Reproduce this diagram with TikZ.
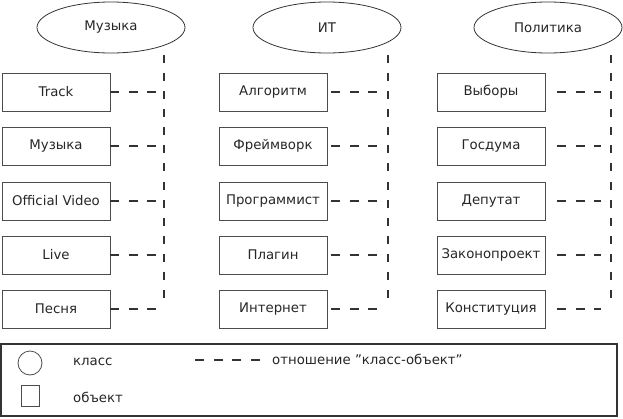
\documentclass[tikz,border=0pt]{standalone}
\usepackage{fontspec}
\setmainfont{DejaVu Sans}
\usetikzlibrary{shapes.geometric}
\begin{document}
\begin{tikzpicture}[x=1pt,y=-1pt,
  txt/.style={font=\fontsize{13.3}{15}\selectfont, text=black!85},
  obj/.style={txt, draw=black!70, line width=0.9pt, minimum width=108pt, minimum height=38pt, inner sep=0pt},
  cls/.style={txt, draw=black!80, ellipse, line width=0.8pt, minimum width=148pt, minimum height=51pt, inner sep=0pt},
  rel/.style={draw=black!80, line width=1.3pt, dash pattern=on 9pt off 9.5pt},
  vrel/.style={draw=black!80, line width=1.3pt, dash pattern=on 8pt off 10.08pt},
  legbox/.style={draw=black!80, line width=1.6pt},
]
\useasboundingbox (0,0) rectangle (623,418);

% classes
\node[cls] (cm) at (111,27.5) {Музыка};
\node[cls] (ci) at (327,27.5) {ИТ};
\node[cls] (cp) at (548,27.5) {Политика};

% objects column 1
\node[obj] (m1) at (56,92) {Track};
\node[obj] (m2) at (56,146) {Музыка};
\node[obj] (m3) at (56,201) {Official Video};
\node[obj] (m4) at (56,255) {Live};
\node[obj] (m5) at (56,309) {Песня};
% column 2
\node[obj] (i1) at (273,92) {Алгоритм};
\node[obj] (i2) at (273,146) {Фреймворк};
\node[obj] (i3) at (273,201) {Программист};
\node[obj] (i4) at (273,255) {Плагин};
\node[obj] (i5) at (273,309) {Интернет};
% column 3
\node[obj] (p1) at (491,92) {Выборы};
\node[obj] (p2) at (491,146) {Госдума};
\node[obj] (p3) at (491,201) {Депутат};
\node[obj] (p4) at (491,255) {Законопроект};
\node[obj] (p5) at (491,309) {Конституция};

% vertical class lines
\coordinate (mt) at (164,55); \coordinate (mb) at (164,298);
\coordinate (it) at (388,55); \coordinate (ib) at (388,298);
\coordinate (pt) at (611,55); \coordinate (pb) at (611,298);
\draw[vrel] (mt) -- (mb);
\draw[vrel] (it) -- (ib);
\draw[vrel] (pt) -- (pb);

% horizontal relations
\coordinate (me) at (157,0);
\coordinate (ie) at (378,0);
\coordinate (pe) at (601,0);
\foreach \n in {m1,m2,m3,m4,m5}{\draw[rel] (\n.east) -- (\n.east -| me);}
\foreach \n in {i1,i2,i3,i4,i5}{\draw[rel, shorten <=4pt] (\n.east) -- (\n.east -| ie);}
\foreach \n in {p1,p2,p3,p4,p5}{\draw[rel, shorten <=12pt] (\n.east) -- (\n.east -| pe);}

% legend
\node[legbox, minimum width=616pt, minimum height=72pt, inner sep=0pt] (leg) at (309,380) {};
\node[draw=black!70, line width=0.8pt, circle, minimum size=24pt, inner sep=0pt] (lc) at (30,363) {};
\node[draw=black!70, line width=0.8pt, minimum width=18pt, minimum height=21pt, inner sep=0pt] (ls) at (30,395.5) {};
\node[txt, anchor=west, inner sep=0pt] (lct) at (73,362) {класс};
\node[txt, anchor=west, inner sep=0pt] (lst) at (73,397) {объект};
\coordinate (ld1) at (195,360);
\coordinate (ld2) at (260,360);
\draw[draw=black!80, line width=1.3pt, dash pattern=on 9pt off 9.67pt] (ld1) -- (ld2);
\node[txt, anchor=west, inner sep=0pt] (lrt) at (272,359) {отношение \symbol{34}класс-объект\symbol{34}};
\end{tikzpicture}
\end{document}
